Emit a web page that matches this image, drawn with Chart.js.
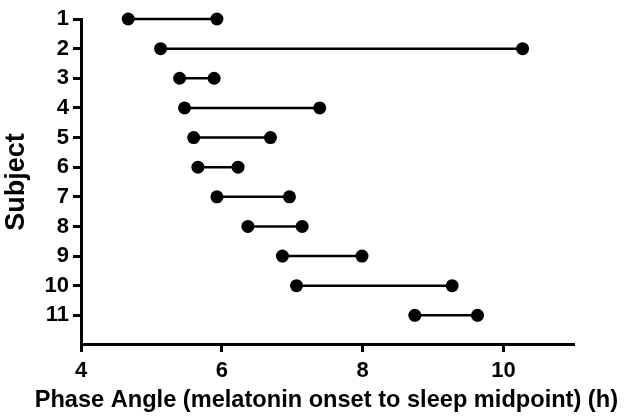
<!DOCTYPE html>
<html>
<head>
<meta charset="utf-8">
<script src="https://cdn.jsdelivr.net/npm/chart.js@4.4.1/dist/chart.umd.min.js"></script>
<style>
  html, body { margin: 0; padding: 0; background: #fff; }
  #wrap { width: 624px; height: 420px; }
</style>
</head>
<body>
<div id="wrap"><canvas id="chart" width="624" height="420"></canvas></div>
<script>
// one row per subject: phase angle at two timepoints (h)
const subjects = [1, 2, 3, 4, 5, 6, 7, 8, 9, 10, 11];
const phaseLow = [4.67, 5.13, 5.40, 5.47, 5.60, 5.66, 5.93, 6.37, 6.86, 7.06, 8.74];
const phaseHigh = [5.93, 10.27, 5.89, 7.39, 6.69, 6.23, 6.96, 7.14, 7.99, 9.27, 9.63];
const xTicks = [4, 6, 8, 10];

const tickFont = { family: "Liberation Sans", weight: "bold", size: 22 };
const xTitleFont = { family: "Liberation Sans", weight: "bold", size: 23.6 };
const yTitleFont = { family: "Liberation Sans", weight: "bold", size: 27 };

const datasets = subjects.map((s, i) => ({
    data: [{ x: phaseLow[i], y: s }, { x: phaseHigh[i], y: s }],
    showLine: true,
    borderColor: "#000",
    borderWidth: 2.5,
    pointRadius: 6.5,
    pointBackgroundColor: "#000",
    pointBorderWidth: 0,
    clip: false
}));

new Chart(document.getElementById("chart"), {
    type: "scatter",
    data: { datasets: datasets },
    options: {
        responsive: false,
        animation: false,
        layout: { padding: { top: 19, right: 6, left: 0, bottom: 0 } },
        plugins: {
            legend: { display: false },
            tooltip: { enabled: false },
            // x title as chart title so it is not squeezed to the plot width
            title: {
                display: true,
                position: "bottom",
                align: "end",
                text: "Phase Angle (melatonin onset to sleep midpoint) (h)",
                color: "#000",
                font: xTitleFont,
                padding: { top: 0, bottom: 5 }
            }
        },
        scales: {
            x: {
                type: "linear",
                min: 4,
                max: 11,
                afterBuildTicks: s => { s.ticks = xTicks.map(v => ({ value: v })); },
                afterFit: s => { s.height = 41.7; },
                grid: { drawOnChartArea: false, drawTicks: true, tickLength: 7, tickWidth: 3, tickColor: "#000" },
                border: { color: "#000", width: 3 },
                ticks: { color: "#000", font: tickFont, padding: 6, maxRotation: 0 }
            },
            y: {
                type: "linear",
                reverse: true,
                min: 1,
                max: 12,
                afterBuildTicks: s => { s.ticks = subjects.map(v => ({ value: v })); },
                afterFit: s => { s.width = 81; },
                grid: { drawOnChartArea: false, drawTicks: true, tickLength: 8, tickWidth: 3, tickColor: "#000" },
                border: { color: "#000", width: 3 },
                ticks: { color: "#000", font: tickFont, padding: 4 },
                title: { display: true, text: "Subject", color: "#000", font: yTitleFont, padding: { top: 0, bottom: 0 } }
            },
            // empty right-hand spacer so the plot stops short of the edge
            spacer: {
                type: "linear",
                position: "right",
                afterFit: s => { s.width = 44; },
                grid: { display: false },
                border: { display: false },
                ticks: { display: false }
            }
        }
    }
});
</script>
</body>
</html>
